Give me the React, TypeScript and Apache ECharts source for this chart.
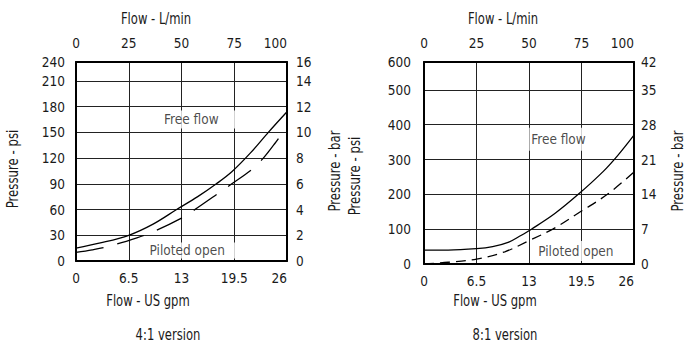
import React, { useEffect, useRef } from "react";
import * as echarts from "echarts";

// ---- Data ----
// 4:1 version (left)
const gpmL_free = [0, 3, 6.5, 9.5, 12.4, 15, 17.3, 19.2, 21.5, 23.7, 26];
const psiL_free = [15, 21, 30, 43, 60, 75, 90, 104, 126, 150, 174];
const gpmL_pilot = [0, 2, 4, 7.5, 9.5, 13, 14.5, 17.7, 19.2, 21.7, 23, 24.5, 26];
const psiL_pilot = [10, 13, 17, 27, 34, 50, 59, 80, 90, 107, 119, 137, 157];
// 8:1 version (right)
const gpmR_free = [0, 3, 6.5, 8.5, 10.5, 12, 13.3, 16.2, 19.1, 22.2, 24, 26];
const psiR_free = [40, 40, 44, 50, 63, 82, 100, 145, 200, 266, 312, 370];
const gpmR_pilot = [0, 3, 6.5, 10, 13, 16, 19.5, 22.7, 26];
const psiR_pilot = [0, 5, 14, 35, 67, 101, 152, 200, 264];

// Tick labels
const gpmTicks = [0, 6.5, 13, 19.5, 26];
const lminTicks = [0, 25, 50, 75, 100];
const psiTicksL = [0, 30, 60, 90, 120, 150, 180, 210, 240];
const barTicksL = [0, 2, 4, 6, 8, 10, 12, 14, 16];
const psiTicksR = [0, 100, 200, 300, 400, 500, 600];
const barTicksR = [0, 7, 14, 21, 28, 35, 42];

// Annotation texts
const labelFree = "Free flow";
const labelPilot = "Piloted open";
const titleTop = "Flow - L/min";
const titleBottom = "Flow - US gpm";
const namePsi = "Pressure - psi";
const nameBar = "Pressure - bar";
const captionL = "4:1 version";
const captionR = "8:1 version";

const FONT = "'DejaVu Sans Condensed', 'DejaVu Sans', sans-serif";
const FS = 13.5;
const TXT = "#1a1a1a";

const pairs = (xs: number[], ys: number[]) => xs.map((x, i) => [x, ys[i]]);

function xAxes(gridIndex: number) {
  const common = {
    gridIndex,
    type: "value" as const,
    axisTick: { show: false },
    axisLine: { show: true, onZero: false, lineStyle: { color: "#000", width: 2 } },
  };
  return [
    {
      ...common,
      position: "bottom",
      min: gpmTicks[0],
      max: gpmTicks[gpmTicks.length - 1],
      interval: gpmTicks[1] - gpmTicks[0],
      splitLine: { show: true, lineStyle: { color: "#222", width: 1 } },
      axisLabel: {
        margin: 10,
        color: TXT,
        fontFamily: FONT,
        fontSize: FS,
        alignMaxLabel: "right",
        showMaxLabel: true,
        showMinLabel: true,
        formatter: (v: number, i: number) => String(gpmTicks[i] ?? v),
      },
    },
    {
      ...common,
      position: "top",
      min: lminTicks[0],
      max: lminTicks[lminTicks.length - 1],
      interval: lminTicks[1] - lminTicks[0],
      splitLine: { show: false },
      axisLabel: {
        margin: 12,
        color: TXT,
        fontFamily: FONT,
        fontSize: FS,
        alignMaxLabel: "right",
        showMaxLabel: true,
        showMinLabel: true,
        formatter: (v: number, i: number) => String(lminTicks[i] ?? v),
      },
    },
  ];
}

function yAxes(gridIndex: number, top: number, psiTicks: number[], barTicks: number[], ml: number, mr: number) {
  const common = {
    gridIndex,
    type: "value" as const,
    min: 0,
    max: top,
    interval: psiTicks[1] - psiTicks[0],
    axisTick: { show: false },
    axisLine: { show: true, onZero: false, lineStyle: { color: "#000", width: 2 } },
  };
  return [
    {
      ...common,
      position: "left",
      splitLine: { show: true, lineStyle: { color: "#222", width: 1 } },
      axisLabel: {
        margin: ml,
        color: TXT,
        fontFamily: FONT,
        fontSize: FS,
        showMaxLabel: true,
        showMinLabel: true,
        formatter: (v: number, i: number) => String(psiTicks[i] ?? v),
      },
    },
    {
      ...common,
      position: "right",
      splitLine: { show: false },
      axisLabel: {
        margin: mr,
        color: TXT,
        fontFamily: FONT,
        fontSize: FS,
        showMaxLabel: true,
        showMinLabel: true,
        formatter: (v: number, i: number) => String(barTicks[i] ?? v),
      },
    },
  ];
}

function lineSeries(xi: number, yi: number, data: number[][], dash: any) {
  return {
    type: "line",
    xAxisIndex: xi,
    yAxisIndex: yi,
    data,
    smooth: 0.35,
    symbol: "none",
    lineStyle: { color: "#000", width: 1.3, type: dash },
    z: 3,
  };
}

function labelSeries(xi: number, yi: number, text: string, pos: number[], padding: number[]) {
  return {
    type: "scatter",
    xAxisIndex: xi,
    yAxisIndex: yi,
    symbolSize: 0,
    data: [pos],
    silent: true,
    z: 4,
    label: {
      show: true,
      position: "inside",
      formatter: text,
      color: TXT,
      fontFamily: FONT,
      fontSize: FS,
      backgroundColor: "#fff",
      padding,
    },
  };
}

function gText(text: string, x: number, y: number, sx: number, rotate = false) {
  return {
    type: "text",
    x,
    y,
    rotation: rotate ? Math.PI / 2 : 0,
    scaleX: sx,
    style: {
      text,
      fill: TXT,
      font: `15px ${FONT}`,
      align: "center",
      verticalAlign: "middle",
    },
  };
}

export default function App() {
  const ref = useRef<HTMLDivElement>(null);
  useEffect(() => {
    if (!ref.current) return;
    const chart = echarts.init(ref.current, null, { renderer: "svg" });
    const option: any = {
      animation: false,
      backgroundColor: "#fff",
      grid: [
        { left: 76, top: 62, width: 211, height: 199 },
        { left: 424, top: 62, width: 210, height: 202 },
      ],
      xAxis: [...xAxes(0), ...xAxes(1)],
      yAxis: [
        ...yAxes(0, 232, psiTicksL, barTicksL, 11, 9),
        ...yAxes(1, 580, psiTicksR, barTicksR, 13, 7),
      ],
      series: [
        lineSeries(0, 0, pairs(gpmL_free, psiL_free), "solid"),
        lineSeries(0, 0, pairs(gpmL_pilot, psiL_pilot), [28, 14]),
        lineSeries(2, 2, pairs(gpmR_free, psiR_free), "solid"),
        lineSeries(2, 2, pairs(gpmR_pilot, psiR_pilot), [10, 6]),
        labelSeries(0, 0, labelFree, [15.2, 165], [2, 18, 2, 2]),
        labelSeries(0, 0, labelPilot, [14.5, 12.3], [1, 14, 1, 1]),
        labelSeries(2, 2, labelFree, [16.65, 358], [6, 2, 3, 2]),
        labelSeries(2, 2, labelPilot, [18.8, 37], [3, 1, 3, 1]),
      ],
      graphic: [
        gText(titleTop, 156, 19, 0.86),
        gText(titleTop, 503, 19, 0.86),
        gText(titleBottom, 148, 301, 0.86),
        gText(titleBottom, 495, 301, 0.86),
        gText(captionL, 168, 335, 0.86),
        gText(captionR, 505, 335, 0.86),
        gText(namePsi, 13, 169, 0.87, true),
        gText(nameBar, 335, 171, 0.87, true),
        gText(namePsi, 355, 176, 0.87, true),
        gText(nameBar, 678, 171, 0.87, true),
      ],
    };
    chart.setOption(option);
    return () => chart.dispose();
  }, []);
  return (
    <div
      ref={ref}
      style={{ position: "fixed", left: 0, top: 0, width: 691, height: 344, background: "#fff" }}
    />
  );
}
